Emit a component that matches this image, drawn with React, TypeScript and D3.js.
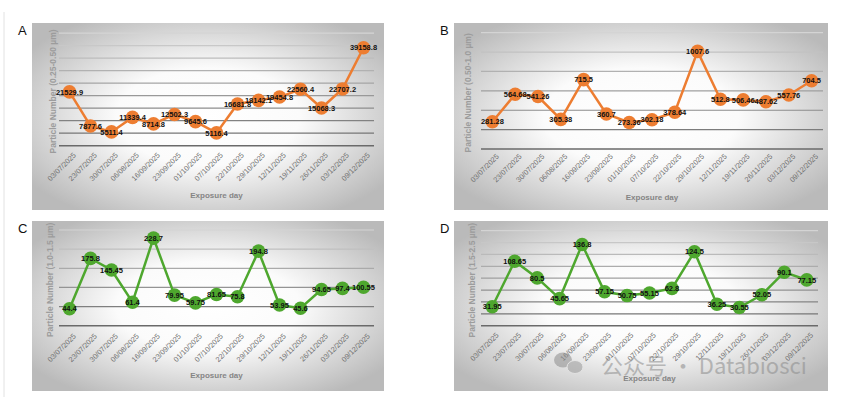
import * as d3 from 'd3'

const dates = [
  '03/07/2025', '23/07/2025', '30/07/2025', '06/08/2025', '16/09/2025',
  '23/09/2025', '01/10/2025', '07/10/2025', '22/10/2025', '29/10/2025',
  '12/11/2025', '19/11/2025', '26/11/2025', '03/12/2025', '09/12/2025',
]

const seriesA = [21529.9, 7877.6, 5511.4, 11339.4, 8714.8, 12502.3, 9645.6, 5116.4, 16681.8, 18142.1, 19454.8, 22560.4, 15068.3, 22707.2, 39158.8]
const seriesB = [281.28, 564.68, 541.26, 305.38, 715.5, 360.7, 273.36, 302.18, 378.64, 1007.6, 512.8, 506.46, 487.62, 557.76, 704.5]
const seriesC = [44.4, 175.8, 145.45, 61.4, 228.7, 79.95, 59.75, 81.65, 75.8, 194.8, 53.95, 45.6, 94.65, 97.4, 100.55]
const seriesD = [31.95, 108.65, 80.5, 45.65, 136.8, 57.15, 50.75, 55.15, 62.8, 124.5, 36.25, 30.55, 52.05, 90.1, 77.15]

const yTicksA = d3.range(0, 45001, 5000)
const yTicksB = d3.range(0, 1201, 200)
const yTicksC = d3.range(0, 251, 50)
const yTicksD = d3.range(0, 161, 20)

const ORANGE = '#ED7D31'
const GREEN = '#4EA72E'
const FONT = 'Arial, "Liberation Sans", sans-serif'

interface PanelProps {
  id: string
  letter: string
  values: number[]
  ticks: number[]
  color: string
  yLabel: string
  box: { x: number; y: number; w: number; h: number }
  plot: { left: number; right: number; top: number; bottom: number }
  yLabelX: number
  tickGap: number
  xTitleY: number
}

function Panel(p: PanelProps) {
  const x = d3.scalePoint<string>().domain(dates).range([p.plot.left, p.plot.right]).padding(0.5)
  const y = d3.scaleLinear().domain([0, d3.max(p.ticks) ?? 1]).range([p.plot.bottom, p.plot.top])
  const pts = p.values.map((v, i) => ({ d: dates[i], v }))
  const line = d3.line<{ d: string; v: number }>().x(d => x(d.d) ?? 0).y(d => y(d.v))
  const gridColor = d3.scaleLinear<string>().domain([d3.max(p.ticks) ?? 1, 0]).range(['#d4d4d4', '#6a6a6a'])
  const cx = (p.plot.left + p.plot.right) / 2
  return (
    <g>
      <rect x={p.box.x} y={p.box.y} width={p.box.w} height={p.box.h} fill={`url(#bg-${p.id})`} />
      <text x={p.box.x - 14} y={p.box.y + 12} fontFamily={FONT} fontSize={13} fill="#111">{p.letter}</text>
      {p.ticks.map(t => (
        <line key={t} x1={p.plot.left} x2={p.plot.right} y1={y(t)} y2={y(t)}
          stroke={gridColor(t)} strokeWidth={t === 0 ? 1.6 : 1.2} />
      ))}
      <text transform={`translate(${p.yLabelX},${(p.plot.top + p.plot.bottom) / 2 + 2}) rotate(-90)`}
        textAnchor="middle" fontFamily={FONT} fontSize={8.5} fontWeight="bold" fill="#9c9c9c">{p.yLabel}</text>
      {dates.map(d => (
        <text key={d} transform={`translate(${(x(d) ?? 0) + 3},${p.plot.bottom + p.tickGap}) rotate(-45)`}
          textAnchor="end" dominantBaseline="hanging" fontFamily={FONT} fontSize={7.3} fill="#6e6e6e">{d}</text>
      ))}
      <text x={cx} y={p.xTitleY} textAnchor="middle" fontFamily={FONT} fontSize={8} fontWeight="bold" fill="#858585">Exposure day</text>
      <path d={line(pts) ?? ''} fill="none" stroke={p.color} strokeWidth={2.5} />
      {pts.map(d => (
        <circle key={d.d} cx={x(d.d)} cy={y(d.v)} r={6.8} fill={p.color} />
      ))}
      {pts.map(d => (
        <text key={d.d} x={x(d.d)} y={y(d.v)} dy="0.35em" textAnchor="middle" fontFamily={FONT}
          fontSize={7.5} fontWeight="bold" fill="#111">{String(d.v)}</text>
      ))}
    </g>
  )
}

export default function App() {
  const panels: PanelProps[] = [
    {
      id: 'a', letter: 'A', values: seriesA, ticks: yTicksA, color: ORANGE,
      yLabel: 'Particle Number (0.25-0.50 µm)',
      box: { x: 32, y: 23, w: 352, h: 187 },
      plot: { left: 59, right: 374, top: 33.2, bottom: 145.7 },
      yLabelX: 56, tickGap: 6, xTitleY: 198,
    },
    {
      id: 'b', letter: 'B', values: seriesB, ticks: yTicksB, color: ORANGE,
      yLabel: 'Particle Number (0.50-1.0 µm)',
      box: { x: 454, y: 23, w: 374, h: 187 },
      plot: { left: 481, right: 823, top: 32.7, bottom: 149 },
      yLabelX: 471, tickGap: 4, xTitleY: 200,
    },
    {
      id: 'c', letter: 'C', values: seriesC, ticks: yTicksC, color: GREEN,
      yLabel: 'Particle Number (1.0-1.5 µm)',
      box: { x: 32, y: 221, w: 352, h: 170 },
      plot: { left: 59, right: 374, top: 230, bottom: 325.7 },
      yLabelX: 53, tickGap: 7, xTitleY: 378,
    },
    {
      id: 'd', letter: 'D', values: seriesD, ticks: yTicksD, color: GREEN,
      yLabel: 'Particle Number (1.5-2.5 µm)',
      box: { x: 454, y: 221, w: 374, h: 170 },
      plot: { left: 481, right: 818, top: 230.7, bottom: 325.7 },
      yLabelX: 475, tickGap: 6, xTitleY: 381,
    },
  ]
  return (
    <svg width={843} height={408} style={{ position: 'absolute', left: 0, top: 0, background: '#fff' }}>
      <defs>
        {panels.map(p => (
          <radialGradient key={p.id} id={`bg-${p.id}`} cx="50%" cy="50%" r="62%">
            <stop offset="0" stopColor="#ffffff" />
            <stop offset="0.42" stopColor="#fbfbfb" />
            <stop offset="1" stopColor="#bababa" />
          </radialGradient>
        ))}
      </defs>
      <line x1={4} x2={4} y1={12} y2={397} stroke="#e2e2e2" strokeWidth={1} />
      {panels.map(p => <Panel key={p.id} {...p} />)}
      <g opacity={0.55}>
        <ellipse cx={563} cy={360} rx={9} ry={7.5} fill="#8c8c8c" />
        <ellipse cx={575} cy={367} rx={8} ry={6.5} fill="#9a9a9a" stroke="#e8e8e8" strokeWidth={1} />
        <text x={601} y={374} fontFamily='"Noto Sans CJK SC", "Noto Sans", sans-serif' fontSize={22} fill="#8c8c8c">公众号 · Databiosci</text>
      </g>
    </svg>
  )
}
